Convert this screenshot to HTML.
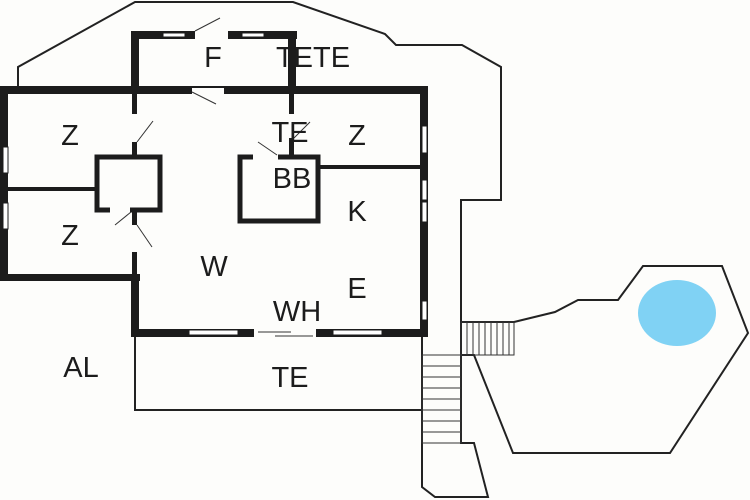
<!DOCTYPE html>
<html><head><style>html,body{margin:0;padding:0;background:#fdfdfb}svg{display:block}</style></head><body>
<svg width="750" height="500" viewBox="0 0 750 500" xmlns="http://www.w3.org/2000/svg">
<rect width="750" height="500" fill="#fdfdfb"/>
<g fill="none" stroke="#222" stroke-width="2">
<polyline points="18,88 18,67 135,2 293,2 385,34 396,45 462,45 501,67 501,200 461,200 461,322"/>
<polyline points="422,335 422,487 435,497 488,497 474,443 461,443 461,355"/>
<rect x="135" y="333" width="287" height="77"/>
<polygon points="514,322 555,312 578,300 618,300 643,266 722,266 748,333 670,453 513,453 474,355 461,355 461,322"/>
</g>
<ellipse cx="677" cy="313" rx="39" ry="33" fill="#80d2f4"/>
<g stroke="#333" stroke-width="1">
<rect x="422" y="355" width="39" height="88" fill="none"/>
<line x1="422" y1="366" x2="461" y2="366"/><line x1="422" y1="377" x2="461" y2="377"/><line x1="422" y1="388" x2="461" y2="388"/><line x1="422" y1="399" x2="461" y2="399"/><line x1="422" y1="410" x2="461" y2="410"/><line x1="422" y1="421" x2="461" y2="421"/><line x1="422" y1="432" x2="461" y2="432"/>
<rect x="461" y="322" width="53" height="33" fill="none"/>
<line x1="467" y1="322" x2="467" y2="355"/><line x1="473" y1="322" x2="473" y2="355"/><line x1="479" y1="322" x2="479" y2="355"/><line x1="485" y1="322" x2="485" y2="355"/><line x1="491" y1="322" x2="491" y2="355"/><line x1="497" y1="322" x2="497" y2="355"/><line x1="503" y1="322" x2="503" y2="355"/><line x1="509" y1="322" x2="509" y2="355"/>
</g>
<g fill="#1c1c1c">
<rect x="0" y="86" width="428" height="8"/>
<rect x="0" y="86" width="8" height="195"/>
<rect x="0" y="274" width="140" height="7"/>
<rect x="131" y="274" width="8" height="62"/>
<rect x="131" y="329" width="297" height="8"/>
<rect x="420" y="86" width="8" height="251"/>
<rect x="131" y="31" width="166" height="8"/>
<rect x="131" y="31" width="8" height="63"/>
<rect x="288" y="31" width="8" height="63"/>
<rect x="132" y="90" width="5" height="24"/>
<rect x="132" y="142" width="5" height="14"/>
<rect x="132" y="208" width="5" height="17"/>
<rect x="132" y="252" width="5" height="25"/>
<rect x="289" y="90" width="5" height="24"/>
<rect x="289" y="138" width="5" height="18"/>
<rect x="4" y="187" width="93" height="4"/>
<rect x="319" y="165" width="103" height="4"/>
</g>
<g fill="none" stroke="#1c1c1c" stroke-width="5">
<rect x="97" y="157" width="63" height="53"/>
<rect x="240" y="157" width="78" height="64"/>
</g>
<g fill="#fdfdfb">
<rect x="195" y="29" width="33" height="12"/>
<rect x="192" y="88" width="32" height="8"/>
<rect x="253" y="153" width="25" height="7"/>
<rect x="110" y="207" width="20" height="6"/>
<rect x="254" y="327" width="62" height="12"/>
</g>
<g fill="#fff" stroke="#1c1c1c" stroke-width="1">
<rect x="163" y="33" width="22" height="4"/><rect x="242" y="33" width="22" height="4"/>
<rect x="3" y="147" width="5" height="26"/><rect x="3" y="203" width="5" height="26"/>
<rect x="422" y="126" width="5" height="27"/><rect x="422" y="180" width="5" height="20"/><rect x="422" y="202" width="5" height="20"/><rect x="422" y="301" width="5" height="19"/>
<rect x="189" y="330" width="49" height="5"/><rect x="333" y="330" width="49" height="5"/>
</g>
<g stroke="#333" stroke-width="1">
<line x1="195" y1="31" x2="220" y2="18"/><line x1="192" y1="92" x2="216" y2="104"/>
<line x1="137" y1="142" x2="153" y2="121"/><line x1="115" y1="225" x2="131" y2="212"/><line x1="137" y1="225" x2="152" y2="247"/>
<line x1="258" y1="142" x2="277" y2="155"/><line x1="294" y1="138" x2="310" y2="122"/>
<line x1="258" y1="332" x2="291" y2="332"/><line x1="275" y1="336" x2="313" y2="336"/>
</g>
<g font-family="Liberation Sans, sans-serif" font-size="29" fill="#1c1c1c" text-anchor="middle">
<text x="213" y="67">F</text><text x="313" y="67">TETE</text>
<text x="70" y="145">Z</text><text x="290" y="142">TE</text><text x="357" y="145">Z</text>
<text x="292" y="188">BB</text><text x="357" y="221">K</text><text x="70" y="245">Z</text>
<text x="214" y="276">W</text><text x="357" y="298">E</text><text x="297" y="321">WH</text>
<text x="81" y="377">AL</text><text x="290" y="387">TE</text>
</g>
</svg>
</body></html>
